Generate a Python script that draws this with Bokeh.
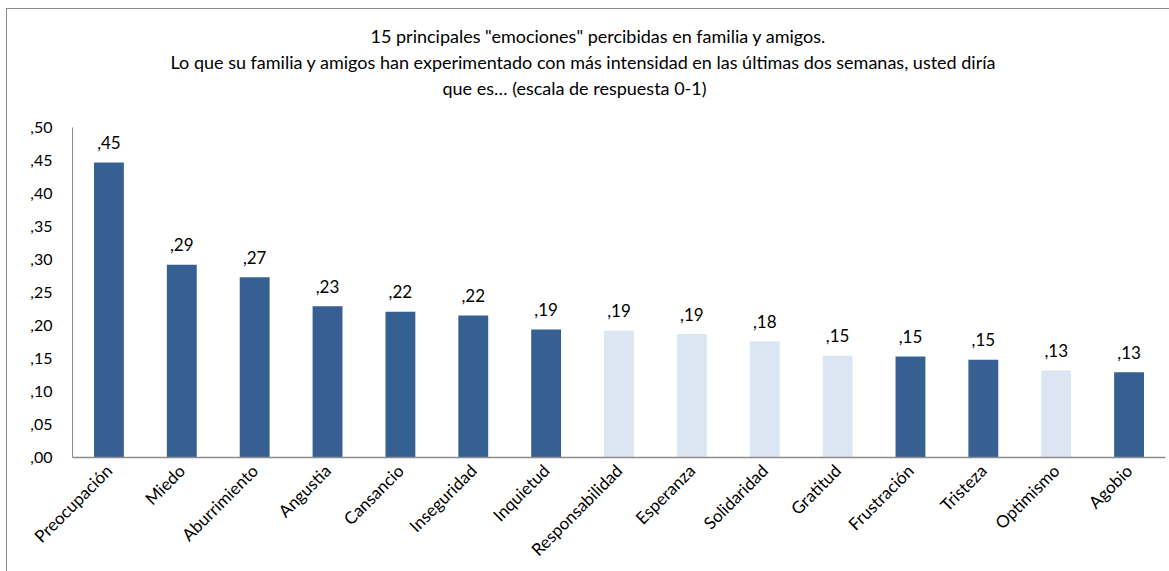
from bokeh.plotting import figure
from bokeh.models import ColumnDataSource, Range1d, FixedTicker, Title
from bokeh.transform import factor_cmap
from bokeh.core.properties import value
from bokeh.embed import file_html
from bokeh.resources import INLINE

# Emotions perceived in family and friends (response scale 0-1)
emociones = ["Preocupación", "Miedo", "Aburrimiento", "Angustia", "Cansancio",
             "Inseguridad", "Inquietud", "Responsabilidad", "Esperanza", "Solidaridad",
             "Gratitud", "Frustración", "Tristeza", "Optimismo", "Agobio"]
valores = [0.447, 0.292, 0.273, 0.229, 0.221, 0.215, 0.194, 0.192, 0.187, 0.176,
           0.154, 0.153, 0.148, 0.132, 0.129]
etiquetas = [",45", ",29", ",27", ",23", ",22", ",22", ",19", ",19", ",19", ",18",
             ",15", ",15", ",15", ",13", ",13"]
tipo = ["negativa", "negativa", "negativa", "negativa", "negativa", "negativa", "negativa",
        "positiva", "positiva", "positiva", "positiva", "negativa", "negativa", "positiva",
        "negativa"]

y_ticks = [0.0, 0.05, 0.10, 0.15, 0.20, 0.25, 0.30, 0.35, 0.40, 0.45, 0.50]
y_tick_labels = [",00", ",05", ",10", ",15", ",20", ",25", ",30", ",35", ",40", ",45", ",50"]

titulo = [
    '15 principales "emociones" percibidas en familia y amigos.',
    "Lo que su familia y amigos han experimentado con más intensidad en las últimas dos semanas, usted diría",
    "que es… (escala de respuesta 0-1)",
]

FONT = "Lato"
GRIS = "#8c8c8c"

src = ColumnDataSource(dict(emocion=emociones, valor=valores, etiqueta=etiquetas, tipo=tipo))

p = figure(width=1169, height=571, x_range=emociones, y_range=Range1d(0, 0.5),
           output_backend="svg", toolbar_location=None,
           min_border_left=72, min_border_right=4, min_border_top=127, min_border_bottom=114)
p.outline_line_color = None
p.xgrid.grid_line_color = None
p.ygrid.grid_line_color = None
p.background_fill_color = "white"
p.border_fill_color = None

# thin chart border (left and top edges) drawn behind the transparent canvas
p.styles = {
    "background-color": "white",
    "background-image": f"linear-gradient({GRIS}, {GRIS}), linear-gradient({GRIS}, {GRIS})",
    "background-size": "1px 100%, 100% 1px",
    "background-position": "6px 8px, 6px 8px",
    "background-repeat": "no-repeat",
}

p.vbar(x="emocion", top="valor", width=0.41, source=src, line_color=None,
       fill_color=factor_cmap("tipo", palette=["#366092", "#DCE6F2"],
                              factors=["negativa", "positiva"]))

p.text(x="emocion", y="valor", text="etiqueta", source=src,
       text_font=value(FONT), text_font_size="17px", text_color="black",
       text_align="center", text_baseline="alphabetic", y_offset=-20)

# y axis
p.yaxis.ticker = FixedTicker(ticks=y_ticks)
p.yaxis.major_label_overrides = {t: l for t, l in zip(y_ticks, y_tick_labels)}
p.yaxis.major_tick_line_color = None
p.yaxis.minor_tick_line_color = None
p.yaxis.axis_line_color = GRIS
p.yaxis.major_label_text_font = FONT
p.yaxis.major_label_text_font_size = "16px"
p.yaxis.major_label_text_color = "black"
p.yaxis.major_label_standoff = 14

# x axis
p.xaxis.major_tick_line_color = None
p.xaxis.axis_line_color = GRIS
p.xaxis.axis_line_width = 1.5
p.xaxis.major_label_orientation = 0.7854
p.xaxis.major_label_text_font = FONT
p.xaxis.major_label_text_font_size = "17px"
p.xaxis.major_label_text_color = "black"
p.xaxis.major_label_standoff = 4


def linea_titulo(texto, desplazamiento, separacion=2):
    return Title(text=texto, align="left", offset=desplazamiento, text_font=FONT,
                 text_font_size="18px", text_font_style="normal", text_color="black",
                 standoff=separacion)


# title: outermost line is the plot title, the others stack towards the frame
p.title = linea_titulo(titulo[0], 298)
p.add_layout(linea_titulo(" ", 0, 4), "above")        # gap between title and frame
p.add_layout(linea_titulo(titulo[2], 370), "above")
p.add_layout(linea_titulo(titulo[1], 98), "above")

open("out.html", "w").write(file_html(p, INLINE))
